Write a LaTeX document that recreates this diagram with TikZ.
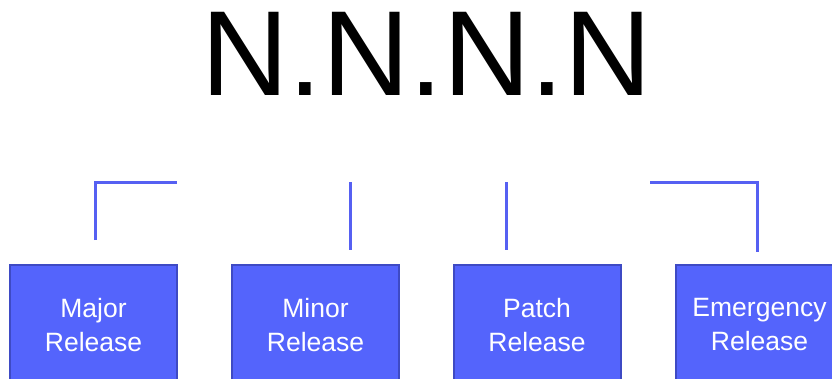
\documentclass[tikz,border=0pt]{standalone}
\usepackage{fontspec}
\setmainfont{Liberation Sans}
\definecolor{relfill}{RGB}{84,100,252}
\definecolor{reledge}{RGB}{62,74,196}
\definecolor{relline}{RGB}{86,96,242}
\tikzset{
  release/.style={draw=reledge, line width=2pt, fill=relfill, text=white,
    minimum width=167pt, minimum height=120pt, inner sep=0pt, align=center,
    font=\fontsize{26.5}{34}\selectfont},
  branch/.style={draw=relline, line width=3pt}
}
\begin{document}
\begin{tikzpicture}[x=1pt,y=-1pt]
        \useasboundingbox (0,0) rectangle (832,378);
        \node[inner sep=0pt, font=\fontsize{121}{121}\selectfont] (title) at (426.5,53.5) {N.N.N.N};
        % release boxes
        \node[release] (major) at (93.5,325) {Major\\Release};
        \node[release] (minor) at (315.5,325) {Minor\\Release};
        \node[release] (patch) at (537,325) {Patch\\Release};
        \node[release] (emerg) at (759.5,325) {Emergency\\Release};
        % branch lines
        \coordinate (majtop) at (177,182);
        \coordinate (majend) at (95,240);
        \coordinate (mintop) at (350,182);
        \coordinate (minend) at (350,250);
        \coordinate (pattop) at (506,182);
        \coordinate (patend) at (506,250);
        \coordinate (emtop) at (650,182);
        \coordinate (emend) at (757,252);
        \draw[branch] (majend) |- (majtop);
        \draw[branch] (mintop) -- (minend);
        \draw[branch] (pattop) -- (patend);
        \draw[branch] (emtop) -| (emend);
    \end{tikzpicture}
\end{document}
